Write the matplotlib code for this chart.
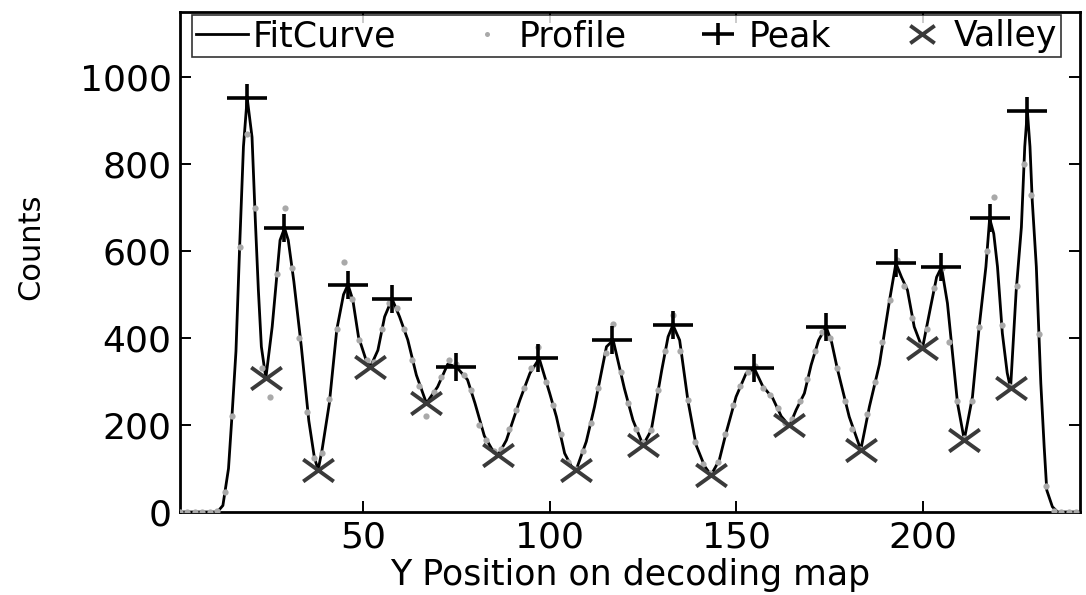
import numpy as np
import matplotlib
matplotlib.use('Agg')
import matplotlib.pyplot as plt
from matplotlib.path import Path

# fitted curve, vertices
fit_x = [1, 11, 12.5, 14, 15, 16, 17, 18, 19, 20.3, 21.2, 22, 22.8, 24, 25.7, 27, 27.8, 29,
         30, 31.5, 33.5, 35.5, 37, 38, 39, 41, 43, 44.8, 46, 47.3, 48.8, 51, 52, 54, 55.8,
         57.8, 59.8, 62, 64.3, 67, 70, 72.7, 75, 78, 80, 82.5, 84.5, 86.2, 88.4, 90.2, 92,
         94.7, 97.2, 100, 101.8, 104, 105.8, 107.1, 109.8, 112, 113.8, 115.2, 117, 120,
         122.3, 125, 127.2, 128.6, 130, 131.7, 133, 134.8, 137, 139.2, 141.5, 143.2, 145.4,
         147.2, 149.9, 152.6, 154.8, 157, 159.7, 162, 164.2, 166, 168.2, 170, 172, 174,
         175.5, 177, 180.2, 183.3, 185.6, 188.3, 191, 192.7, 194.2, 195.8, 197.6, 199.8,
         202, 203.6, 204.9, 206.5, 207.8, 209.2, 211, 213.2, 215, 216.8, 217.8, 218.9,
         219.9, 221.2, 222.5, 223.4, 224.9, 226.3, 227.2, 227.9, 228.6, 229.2, 230.3,
         231.5, 232.4, 233.1, 234.6, 236, 242]
fit_y = [0, 0, 15, 100, 230, 370, 614, 840, 952, 862, 667, 510, 380, 308, 426, 548, 625, 653,
         625, 530, 380, 210, 125, 97, 140, 250, 420, 500, 523, 487, 403, 345, 334, 372, 449,
         490, 449, 396, 315, 250, 288, 340, 334, 304, 250, 175, 145, 131, 165, 211, 257,
         319, 353, 273, 219, 135, 105, 97, 162, 242, 319, 380, 395, 284,
         211, 154, 188, 257, 326, 403, 430, 395, 257, 154, 105, 85, 119,
         181, 265, 319, 330, 290, 262, 220, 198, 235, 273, 338, 395, 426,
         390, 330, 219, 143, 242, 340, 487, 572, 540, 510, 426, 376,
         472, 540, 563, 480, 370, 250, 166, 265, 426, 564, 675, 640,
         564, 411, 320, 284, 508, 655, 840, 922, 840, 717, 564,
         296, 150, 50, 12, 0, 0]

# measured profile, every second position
profile_x = np.arange(1, 242, 2)
profile_y = [0, 0, 0, 0, 0, 3, 45, 220, 610, 870, 700, 330, 265, 548, 700, 560, 400, 230,
             125, 135, 260, 420, 575, 490, 395, 350, 345, 420, 480, 470, 420, 350, 290, 220,
             275, 310, 350, 340, 315, 280, 200, 165, 140, 145, 190, 235, 285, 330, 380, 300,
             245, 180, 115, 100, 140, 205, 285, 365, 433, 322, 250, 190, 160, 188, 280, 370,
             453, 370, 257, 160, 110, 90, 115, 180, 245, 290, 322, 335, 285, 270, 240, 205,
             215, 255, 305, 370, 415, 400, 330, 255, 190, 145, 225, 300, 390, 487, 580, 520,
             445, 385, 420, 515, 560, 390, 255, 170, 255, 426, 600, 725, 430, 290, 520, 800,
             730, 410, 60, 3, 0, 0, 0]

peak_x = [19, 28.9, 46, 57.8, 75, 96.8, 116.8, 133, 154.8, 174, 192.7, 204.9, 217.8, 227.9]
peak_y = [952, 653, 523, 490, 334, 353, 395, 430, 330, 426, 572, 563, 675, 922]
valley_x = [24, 38, 51.9, 66.9, 86.2, 107.1, 124.9, 143.2, 164.2, 183.3, 199.8, 211, 223.4]
valley_y = [308, 97, 334, 250, 131, 97, 155, 86, 199, 143, 376, 165, 284]

plt.rcParams['font.family'] = ['DejaVu Sans']

# the original picture is stretched sideways, so are its markers
plus_mark = Path([(-1, 0), (1, 0), (0, -0.7), (0, 0.7)],
                 [Path.MOVETO, Path.LINETO, Path.MOVETO, Path.LINETO])
cross_mark = Path([(-1, -0.72), (1, 0.72), (-1, 0.72), (1, -0.72)],
                  [Path.MOVETO, Path.LINETO, Path.MOVETO, Path.LINETO])

fig = plt.figure(figsize=(10.86, 5.95), dpi=100)
ax = fig.add_axes([0.1657, 0.1395, 0.8288, 0.8405])

ax.plot(fit_x, fit_y, color='black', lw=2.0, label='FitCurve', zorder=2)
ax.plot(profile_x, profile_y, 'o', color='#a9a9a9', ms=4.5, mec='none',
        label='Profile', zorder=3)
ax.plot(peak_x, peak_y, ls='none', marker=plus_mark, ms=29, mew=2.6,
        color='black', label='Peak', zorder=4)
ax.plot(valley_x, valley_y, ls='none', marker=cross_mark, ms=22, mew=2.8,
        color='#3a3a3a', label='Valley', zorder=4)

ax.set_xlim(1, 242)
ax.set_ylim(0, 1150)
ax.set_xticks([50, 100, 150, 200])
ax.set_yticks([0, 200, 400, 600, 800, 1000])
ax.tick_params(direction='in', length=8, width=1.4, top=True, right=True,
               labelsize=26, pad=6)
for s in ax.spines.values():
    s.set_linewidth(2)

ax.set_xlabel('Y Position on decoding map', fontsize=25, labelpad=3)
ax.set_ylabel('Counts', fontsize=22)
ax.yaxis.set_label_coords(-0.15, 0.53)

leg = ax.legend(loc='upper left', bbox_to_anchor=(0.013, 0.994, 0.966, 0),
                mode='expand', ncol=4, fontsize=25, frameon=True, fancybox=False,
                edgecolor='black', handlelength=1.5, handletextpad=0.15,
                columnspacing=0.3, borderpad=0.12, borderaxespad=0,
                markerscale=0.8)
leg.get_frame().set_linewidth(1.2)

fig.savefig('out.png', dpi=100)
